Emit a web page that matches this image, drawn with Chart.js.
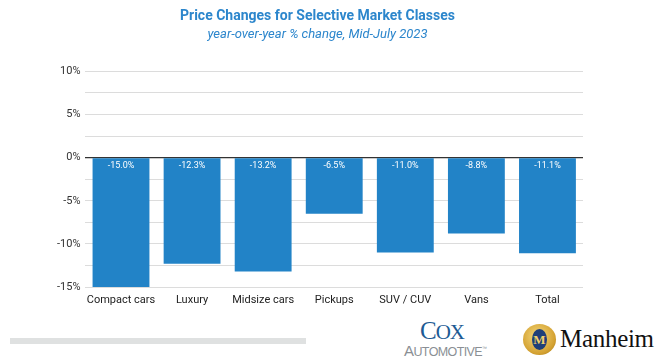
<!DOCTYPE html>
<html><head><meta charset="utf-8">
<script src="https://cdn.jsdelivr.net/npm/chart.js@4"></script>
<style>
html,body{margin:0;padding:0;background:#fff;width:664px;height:357px;overflow:hidden;font-family:Roboto,"Open Sans",sans-serif;}
#wrap{position:absolute;left:0;top:0;width:664px;height:306px;}
#bar{position:absolute;left:10px;top:338px;width:296px;height:6px;background:#dfe1e1;}
#cox{position:absolute;left:420px;top:318px;font-family:"Liberation Serif","DejaVu Serif",serif;color:#1d5b94;font-size:25px;line-height:25px;letter-spacing:-1px;}
#cox span{font-size:21px;}
#auto{position:absolute;left:404px;top:341px;font-family:"Liberation Sans",sans-serif;font-weight:300;color:#8a8f94;font-size:15px;line-height:15px;letter-spacing:-0.6px;}
#auto small{font-size:12.5px;}
#emb{position:absolute;left:523px;top:324px;width:33px;height:31px;border-radius:50%;background:radial-gradient(circle at 45% 40%,#f7dc82,#d4a232 65%,#9c6f14);}
#emb div{position:absolute;left:9px;top:5px;width:15px;height:21px;border-radius:50%;background:#1f3f78;color:#f1cf6b;font:bold 13px "Liberation Serif",serif;text-align:center;line-height:21px;}
#man{position:absolute;left:560px;top:323px;font-family:"Liberation Serif","DejaVu Serif",serif;color:#111;font-size:25px;line-height:32px;letter-spacing:-0.3px;}
</style></head>
<body>
<div id="wrap"><canvas id="c" width="664" height="306"></canvas></div>
<div id="bar"></div>
<div id="cox">C<span>OX</span></div>
<div id="auto">A<small>UTOMOTIVE</small><sup style="font-size:5px">™</sup></div>
<div id="emb"><div>M</div></div>
<div id="man">Manheim</div>
<script>
const categories = ["Compact cars","Luxury","Midsize cars","Pickups","SUV / CUV","Vans","Total"];
const changes = [-15.0,-12.3,-13.2,-6.5,-11.0,-8.8,-11.1];
const yTicks = [10,5,0,-5,-10,-15];
const titleText = "Price Changes for Selective Market Classes";
const subtitleText = "year-over-year % change, Mid-July 2023";

const labelPlugin = {
  id:'barLabels',
  afterDatasetsDraw(chart){
    const ctx = chart.ctx;
    const meta = chart.getDatasetMeta(0);
    ctx.save();
    ctx.fillStyle = '#ffffff';
    ctx.font = '9px Roboto, sans-serif';
    ctx.textAlign = 'center';
    ctx.textBaseline = 'top';
    meta.data.forEach((el,i)=>{
      ctx.fillText(changes[i].toFixed(1)+'%', el.x, el.base + 3);
    });
    ctx.restore();
  }
};

new Chart(document.getElementById('c'),{
  type:'bar',
  data:{labels:categories,datasets:[{data:changes,backgroundColor:'#2283c7',borderWidth:0,barPercentage:0.8,categoryPercentage:1.0}]},
  options:{
    responsive:false,animation:false,
    layout:{padding:{left:52,right:81,top:0,bottom:0}},
    plugins:{
      legend:{display:false},tooltip:{enabled:false},
      title:{display:true,text:titleText,color:'#2c86cc',font:{family:'Roboto',size:14,weight:'bold'},padding:{top:8,bottom:2}},
      subtitle:{display:true,text:subtitleText,color:'#2c86cc',font:{family:'Roboto',size:13,style:'italic'},padding:{top:0,bottom:29}}
    },
    scales:{
      x:{grid:{display:false},border:{display:false},ticks:{color:'#222',font:{family:'Roboto',size:11,lineHeight:1.0},padding:0,maxRotation:0,autoSkip:false}},
      y:{min:-15,max:10,
         grid:{color:(c)=>c.tick.value===0?'#333':'#dcdcdc',lineWidth:(c)=>c.tick.value===0?1.2:1,drawTicks:false},
         border:{display:false},
         afterBuildTicks(ax){ax.ticks=[];for(let v=10;v>=-15;v-=2.5)ax.ticks.push({value:v});},
         ticks:{color:'#333',font:{family:'Roboto',size:11},padding:5,callback:(v)=>yTicks.includes(v)?v+'%':''}
      }
    }
  },
  plugins:[labelPlugin]
});
</script>
</body></html>
